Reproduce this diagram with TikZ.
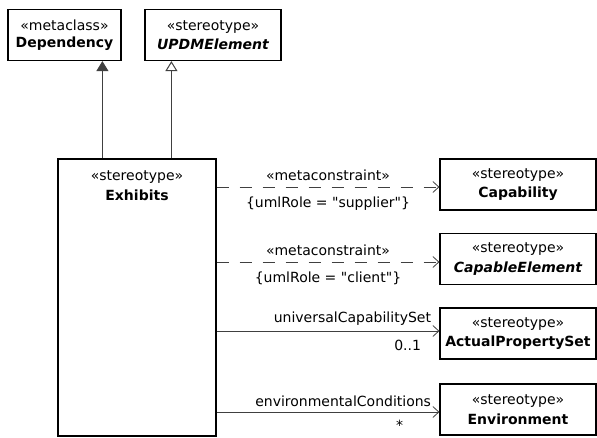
\documentclass[tikz,border=0pt]{standalone}
\usepackage{fontspec}
\setmainfont{DejaVu Sans}[Ligatures=TeXOff]
\usetikzlibrary{arrows.meta,positioning}

\definecolor{linegray}{HTML}{404040}

\tikzstyle{classbox} = [draw=black, fill=white, rectangle, align=center,
    line width=1.2pt, minimum height=51pt, inner sep=2pt]
\tikzstyle{general} = [draw=linegray, line width=1pt]
\tikzstyle{constraint} = [draw=linegray, line width=0.8pt, dash pattern=on 12pt off 11pt,
    -{Straight Barb[length=6pt, width=11pt]}]
\tikzstyle{assoc} = [draw=linegray, line width=0.8pt, -{Straight Barb[length=6pt, width=11pt]}]
\tikzstyle{lbl} = [font=\fontsize{14}{15}\selectfont, inner sep=1pt]

\newcommand{\stereo}[2]{{\fontsize{14}{15}\selectfont «#1»}\\[5pt]{\fontsize{14}{15}\selectfont\bfseries #2}}

\begin{document}
\begin{tikzpicture}[x=1pt, y=-1pt]
    \useasboundingbox (0,0) rectangle (597,437);

    \node [classbox, minimum width=113pt] (dependency) at (64.5,35) {\stereo{metaclass}{Dependency}};
    \node [classbox, minimum width=136pt] (updm) at (213,35) {\stereo{stereotype}{\itshape UPDMElement}};
    \node [classbox, minimum width=158pt, minimum height=277pt,
        label={[anchor=north, align=center, yshift=-9pt]north:\stereo{stereotype}{Exhibits}}] (exhibits) at (137,297.5) {};

    \node [classbox, minimum width=156pt] (capability) at (518,184.5) {\stereo{stereotype}{Capability}};
    \node [classbox, minimum width=156pt] (capable) at (518,259) {\stereo{stereotype}{\itshape CapableElement}};
    \node [classbox, minimum width=156pt] (actual) at (518,333.5) {\stereo{stereotype}{ActualPropertySet}};
    \node [classbox, minimum width=156pt] (environment) at (518,409.5) {\stereo{stereotype}{Environment}};

    % generalisation and dependency
    \draw [general, -{Triangle[length=10pt, width=12pt, fill=linegray]}]
        ([xshift=45pt]exhibits.north west) -- ([xshift=45pt]exhibits.north west |- dependency.south);
    \draw [general, -{Triangle[open, length=10pt, width=12pt, fill=white]}]
        ([xshift=114pt]exhibits.north west) -- ([xshift=114pt]exhibits.north west |- updm.south);

    % metaconstraints
    \draw [constraint] ([yshift=-2.5pt]exhibits.east |- capability.west) -- node [lbl, above=5pt] {«metaconstraint»}
        node [lbl, below=8pt] {\{umlRole = "supplier"\}} ([yshift=-2.5pt]capability.west);
    \draw [constraint] ([yshift=-3pt]exhibits.east |- capable.west) -- node [lbl, above=5pt] {«metaconstraint»}
        node [lbl, below=8pt] {\{umlRole = "client"\}} ([yshift=-3pt]capable.west);

    % associations
    \draw [assoc] ([yshift=2.5pt]exhibits.east |- actual.west) -- node [lbl, pos=1, above left=4pt and 7pt] {universalCapabilitySet}
        node [lbl, pos=1, below left=8pt and 17pt] {0..1} ([yshift=2.5pt]actual.west);
    \draw [assoc] ([yshift=-2.5pt]exhibits.east |- environment.west) -- node [lbl, pos=1, above left=4pt and 7pt] {environmentalConditions}
        node [lbl, pos=1, below left=7pt and 35pt] {*} ([yshift=-2.5pt]environment.west);
\end{tikzpicture}
\end{document}
